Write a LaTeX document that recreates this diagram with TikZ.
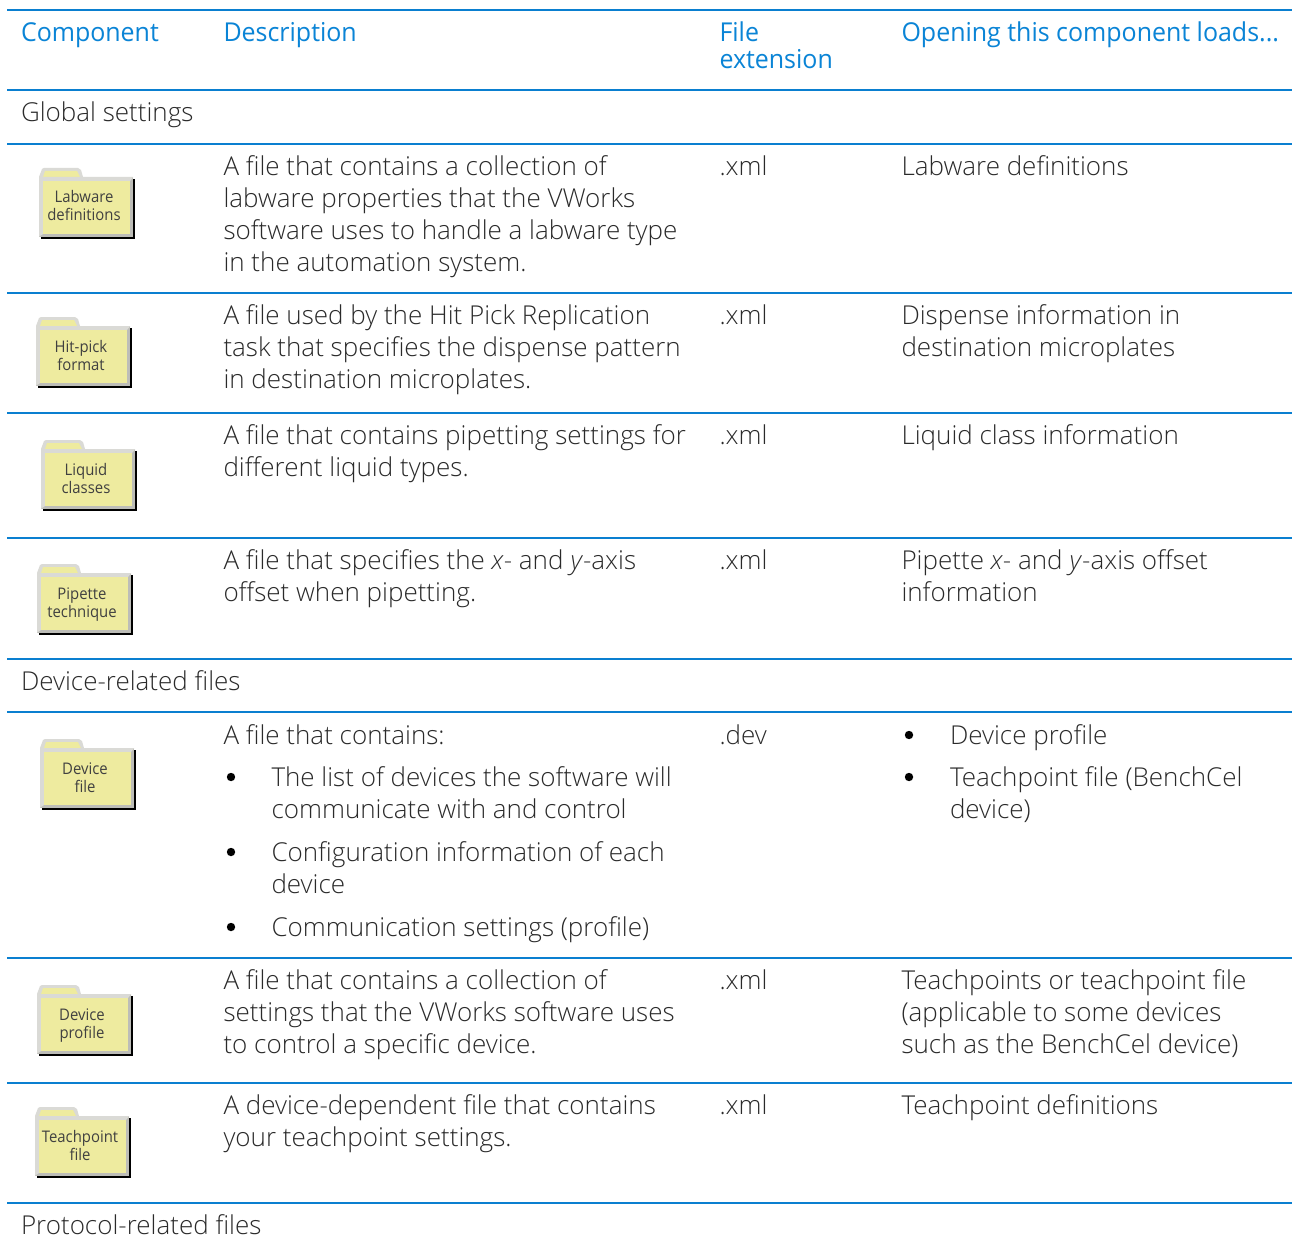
\documentclass[tikz,border=0pt]{standalone}
\usepackage{fontspec}
\setmainfont{Open Sans Light}[FakeStretch=1.0,BoldFont={Open Sans}]
\newfontfamily\hdfont{Open Sans}[FakeStretch=0.96]
\newfontfamily\foldfont{Open Sans}[FakeStretch=0.93]
\definecolor{rulec}{HTML}{0A7FD0}
\definecolor{headc}{HTML}{0A84D6}
\definecolor{textc}{HTML}{2A2A2A}
\definecolor{foldc}{HTML}{EEEB9F}
\definecolor{foldedge}{HTML}{DADAD6}
\definecolor{foldshade}{HTML}{BDBDB8}
\newcounter{nn}
\tikzset{
  x=1pt,y=-1pt,
  txt/.style={anchor=base west,inner sep=0pt,outer sep=0pt,font=\fontsize{26}{26}\selectfont,text=textc},
  hd/.style={anchor=base west,inner sep=0pt,outer sep=0pt,font=\hdfont\fontsize{26}{26}\selectfont,text=headc},
  rul/.style={draw=rulec,line width=2pt},
  flab/.style={anchor=base,inner sep=0pt,outer sep=0pt,font=\foldfont\fontsize{16}{16}\selectfont,text=black!75}
}
\newcommand{\tl}[3]{\stepcounter{nn}\node[txt] (t\thenn) at (#1,#2) {#3};}
\newcommand{\hl}[3]{\stepcounter{nn}\node[hd] (t\thenn) at (#1,#2) {#3};}
\newcommand{\bul}[2]{\fill[black] (#1,#2) circle (4.2pt);}
\newcommand{\rl}[1]{\draw[rul] (7,#1) -- (1292,#1);}
% x left, y top, label 1, label 2
\newcommand{\fold}[4]{%
 \begin{scope}[shift={(#1,#2)}]
  \fill[foldedge] (0,9) -- (3,1) -- (5,0) -- (39,0) -- (42,2) -- (44,9) -- cycle;
  \fill[foldc] (4,9) -- (6,3) -- (38,3) -- (41,9) -- cycle;
  \fill[black] (2,11) rectangle (96,71);
  \fill[foldshade] (0,9) rectangle (94.3,68.7);
  \fill[foldedge] (0,9) -- (94.3,9) -- (91,13) -- (4,13) -- (4,66) -- (0,68.7) -- cycle;
  \fill[foldc] (4,13) rectangle (91,66);
  \stepcounter{nn}\node[flab] (f\thenn) at (45,35) {#3};
  \stepcounter{nn}\node[flab] (f\thenn) at (45,53) {#4};
 \end{scope}}
\begin{document}
\begin{tikzpicture}
\useasboundingbox (0,0) rectangle (1292,1249);
\fill[white] (0,0) rectangle (1292,1249);
\foreach \y in {10,90,144,293,413,538,659,712,958,1083,1203} {\rl{\y}}
\hl{21}{42}{Component}
\hl{223.5}{42}{Description}
\hl{719.5}{42}{File}
\hl{719.5}{69}{extension}
\hl{901.5}{42}{Opening this component loads...}
\tl{21}{122}{Global settings}
\fold{39}{168}{Labware}{definitions}
\tl{223.5}{176}{A file that contains a collection of}
\tl{223.5}{208}{labware properties that the VWorks}
\tl{223.5}{240}{software uses to handle a labware type}
\tl{223.5}{272}{in the automation system.}
\tl{719.5}{176}{.xml}
\tl{901.5}{176}{Labware definitions}
\fold{36}{317}{Hit-pick}{format}
\tl{223.5}{324}{A file used by the Hit Pick Replication}
\tl{223.5}{356}{task that specifies the dispense pattern}
\tl{223.5}{388}{in destination microplates.}
\tl{719.5}{324}{.xml}
\tl{901.5}{324}{Dispense information in}
\tl{901.5}{356}{destination microplates}
\fold{41}{440}{Liquid}{classes}
\tl{223.5}{444}{A file that contains pipetting settings for}
\tl{223.5}{476}{different liquid types.}
\tl{719.5}{444}{.xml}
\tl{901.5}{444}{Liquid class information}
\fold{37}{564}{Pipette}{technique}
\tl{223.5}{569}{A file that specifies the \textit{x}- and \textit{y}-axis}
\tl{223.5}{601}{offset when pipetting.}
\tl{719.5}{569}{.xml}
\tl{901.5}{569}{Pipette \textit{x}- and \textit{y}-axis offset}
\tl{901.5}{601}{information}
\tl{21}{690}{Device-related files}
\fold{40}{739}{Device}{file}
\tl{223.5}{744}{A file that contains:}
\bul{231}{777}
\tl{271.5}{786}{The list of devices the software will}
\tl{271.5}{818}{communicate with and control}
\bul{231}{852}
\tl{271.5}{861}{Configuration information of each}
\tl{271.5}{893}{device}
\bul{231}{927}
\tl{271.5}{936}{Communication settings (profile)}
\tl{719.5}{744}{.dev}
\bul{909}{735}
\tl{950}{744}{Device profile}
\bul{909}{777}
\tl{950}{786}{Teachpoint file (BenchCel}
\tl{950}{818}{device)}
\fold{37}{985}{Device}{profile}
\tl{223.5}{989}{A file that contains a collection of}
\tl{223.5}{1021}{settings that the VWorks software uses}
\tl{223.5}{1053}{to control a specific device.}
\tl{719.5}{989}{.xml}
\tl{901.5}{989}{Teachpoints or teachpoint file}
\tl{901.5}{1021}{(applicable to some devices}
\tl{901.5}{1053}{such as the BenchCel device)}
\fold{35}{1107}{Teachpoint}{file}
\tl{223.5}{1114}{A device-dependent file that contains}
\tl{223.5}{1146}{your teachpoint settings.}
\tl{719.5}{1114}{.xml}
\tl{901.5}{1114}{Teachpoint definitions}
\tl{21}{1234}{Protocol-related files}
\end{tikzpicture}
\end{document}
